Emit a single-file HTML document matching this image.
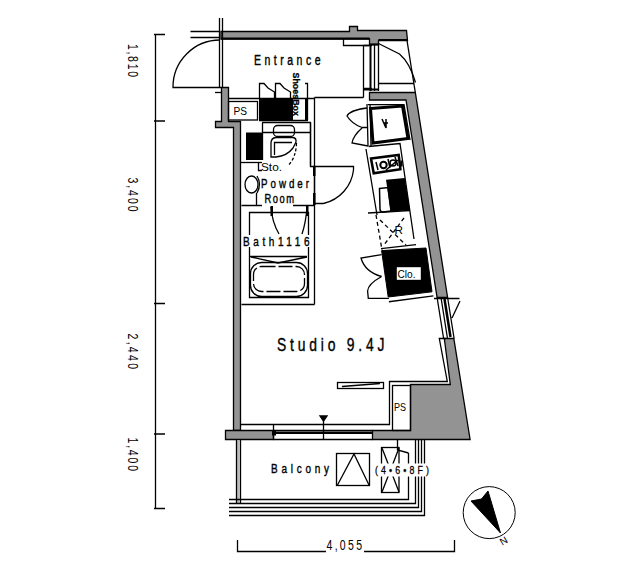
<!DOCTYPE html>
<html><head><meta charset="utf-8">
<style>
html,body{margin:0;padding:0;background:#fff;width:640px;height:569px;overflow:hidden}
svg{display:block}
text{font-family:"Liberation Mono",monospace;fill:#000}
.s{font-family:"Liberation Sans",sans-serif}
g[stroke="#000"]{stroke-width:1.3}
</style></head>
<body>
<svg width="640" height="569" viewBox="0 0 640 569">
<g fill="none" stroke="#000" stroke-width="1">
<!-- left dimension -->
<path d="M155.5 34V508.5M154 34.5H165M154 121H165M154 303.5H165M154 434H165M154 508.5H165"/>
<!-- bottom dimension -->
<path d="M237.5 540V551.5H326M364 551.5H454.5V540"/>
</g>
<g class="s" font-size="14">
<text class="s" transform="translate(128,44) rotate(90) scale(0.75,1)" textLength="44.00" lengthAdjust="spacing">1,810</text>
<text class="s" transform="translate(128,177.5) rotate(90) scale(0.75,1)" textLength="45.33" lengthAdjust="spacing">3,400</text>
<text class="s" transform="translate(128,333.5) rotate(90) scale(0.75,1)" textLength="47.33" lengthAdjust="spacing">2,440</text>
<text class="s" transform="translate(128,437.5) rotate(90) scale(0.75,1)" textLength="44.67" lengthAdjust="spacing">1,400</text>
<text class="s" transform="translate(326.5,550) scale(0.75,1)" textLength="47.33" lengthAdjust="spacing">4,055</text>
</g>

<!-- ============ walls grey ============ -->
<g fill="#939393" stroke="#000" stroke-width="1">
<!-- top wall -->
<path d="M221 31.5H349.5V26.5H357.5V30.5H406.5L407.5 40.5H378.5V44.5H369.5V39H221Z"/>
<!-- left wall -->
<path d="M221.5 87.5H228.5V121.5H240.5V430.5H233.5V127.5H215.5V121.5H221.5Z"/>
<!-- right wall upper -->
<path d="M369.5 92.5H415.3L447.6 297.5H437.1L406 100H369.5Z"/>
<!-- right wall lower + PS block -->
<path d="M444.3 338.5H453.8L470.1 439.5H372.5V430.5H410.5V384.5H450.3Z"/>
<!-- bottom left band -->
<path d="M225.5 430.5H273.5V439.5H225.5Z"/>
</g>
<path d="M221 38.5H369.5M378.5 40H407" stroke="#000" stroke-width="2"/>

<g fill="none" stroke="#000" stroke-width="1">
<!-- entrance left double line -->
<path d="M219.5 18V87M222.5 18V87"/>
<!-- entrance door -->
<path d="M190.5 31.5H220M190.5 37.5H220"/>
<path d="M220 40A47 47 0 0 0 173 87.5H221"/>
<path d="M215 92.5H221"/>
<!-- top right window + door -->
<path d="M363.5 45V97.5M374.5 45V91M378.5 45V91M363.5 45.5H372M363.5 88.5H372"/>
<path d="M370.5 44V91" stroke-width="2"/><path d="M363 89.5H379M369 44.5H379" stroke-width="2"/>
<path d="M343.5 39V45.5H369"/>
<path d="M378.5 43.5L399.5 54Q410 63 415.5 82.5"/>
<path d="M378.5 83.5H414"/>
<path d="M407 40.5L415.3 92.5"/>
<!-- entrance lower boundary -->
<path d="M228.5 98.5H314.5"/>
<path d="M314.5 97.5H363.5"/>
<path d="M314.5 97.5V205.5M310.5 122.5V166.5H314.5"/>
<path d="M314.5 166.5H353.5V170A39 39 0 0 1 323.5 203.5H314.5"/>
<!-- right window (studio) -->
<path d="M437.1 297.5L443.6 338.5M447.6 297.5L454.1 338.5M441 297.5L447.5 338.5M434 298.5H459.5M460 301L452 318"/>
<path d="M444.5 299L450.5 337" stroke-width="2.5"/>
</g>

<!-- ============ entrance / shoe box ============ -->
<g fill="none" stroke="#000" stroke-width="1">
<rect x="228.5" y="101.5" width="29" height="18.5"/>
<path d="M259.5 98V83.5H264L268 88L274.5 92V98M275.5 98V83.5H280L284 88L290.5 92V98"/>
<path d="M259 120.5H308M305 83.5H307.5V120"/>
</g>
<rect x="259" y="98" width="34" height="22" fill="#000"/>
<rect x="305" y="98" width="3" height="22" fill="#000"/>
<text class="s" x="233.5" y="114.8" font-size="11.5" textLength="13.5" lengthAdjust="spacingAndGlyphs">PS</text>
<text transform="translate(293,72.5) rotate(90)" font-size="9.5" class="s" font-weight="bold" stroke="#000" stroke-width="0.3" y="0" textLength="43.5" lengthAdjust="spacingAndGlyphs">ShoesBox</text>
<text class="s" transform="translate(254,65) scale(0.75,1)" stroke="#000" stroke-width="0.4" font-size="14" textLength="88.67" lengthAdjust="spacing">Entrance</text>

<!-- ============ powder room ============ -->
<g fill="none" stroke="#000" stroke-width="1">
<path d="M262.5 123V160M262 122.5H311M310.5 122.5V165.5"/>
<path d="M262 132.5H310.5"/>
<path d="M241 162.5H262"/>
<rect x="273.5" y="125.5" width="21" height="11" rx="4"/>
<path d="M271 157V143Q271 138 276 137.5H293Q296.5 138 296 142L293 148Q287 156 276 157Z"/>
<path d="M274.5 155V142.5H292"/>
<path d="M296.5 143Q296 158 288 165.5" stroke-dasharray="3 2"/>
<ellipse cx="251.5" cy="184.5" rx="6.5" ry="8.5"/>
<path d="M257 176Q262 184 257 193" />
<path d="M241.5 205.5H262M293 205.5H314.5M314.5 165.5V304.5"/>
<path d="M256.5 193V205M258.5 163V170.5H262"/>
</g>
<rect x="246" y="132.5" width="16.5" height="27.5" fill="#000"/>
<rect x="313" y="166" width="2.5" height="10" fill="#000"/><rect x="313" y="193" width="2.5" height="12" fill="#000"/>
<text class="s" x="261" y="171" font-size="10.5" textLength="21" lengthAdjust="spacingAndGlyphs">Sto.</text>
<text class="s" transform="translate(261,188) scale(0.75,1)" stroke="#000" stroke-width="0.4" font-size="13" textLength="64.00" lengthAdjust="spacing">Powder</text>
<text class="s" transform="translate(264.5,203) scale(0.75,1)" stroke="#000" stroke-width="0.4" font-size="12.5" textLength="39.33" lengthAdjust="spacing">Room</text>

<!-- ============ bath ============ -->
<g fill="none" stroke="#000" stroke-width="1">
<path d="M249.5 235V212.5H308.5V235M249.5 247V297.5H308.5V247"/>
<path d="M271 207Q272 222 279 234M307 207Q306 222 302 234"/>
<rect x="250.5" y="262.5" width="57" height="34" rx="11"/>
<rect x="253.5" y="266.5" width="51" height="25" rx="8" stroke-dasharray="14 3"/>
<path d="M250 256.5H307M251 257L278 263L307 257"/>
<path d="M241.5 304.5H314.5"/>
</g>
<rect x="270.5" y="206" width="2.5" height="10" fill="#000"/>
<rect x="306" y="206" width="2.5" height="10" fill="#000"/>
<text class="s" transform="translate(243,245.5) scale(0.75,1)" stroke="#000" stroke-width="0.4" font-size="13.3" textLength="88.67" lengthAdjust="spacing">Bath1116</text>

<!-- ============ kitchen ============ -->
<g fill="none" stroke="#000" stroke-width="1">
<path d="M367 104L368 146M370 104L371 146"/>
<path d="M368 104.7H404L410 140"/>
<path d="M370.5 108.5L402.5 106L408 138.5L373 143Z" stroke-width="3"/>
<path d="M367 108Q350 110 347 116Q352 124 362 127.5L367 127.5M362 128Q353 136 352 143L368 146"/>
<path d="M368.5 146.5L400 143.5L414 239M366 149L377 215"/>
<path d="M371 158.5L398.7 155L400.4 169.2L373.7 173.3Z" stroke-width="2.5"/>
<circle cx="383.5" cy="165" r="3.2" stroke-width="2"/>
<circle cx="393" cy="163" r="3" stroke-width="1.5"/>
<path d="M376 162L378 170M388 159L390 168M395 157L398 166M386 170L398 160" stroke-width="1.5"/>
<path d="M401.5 160.5V166.5" stroke-width="2"/>
<path d="M379.5 188.5L388 187.5L391 211L383 212Q380 212 380 209Z" stroke-width="1.5"/><path d="M368 213L410 210.5"/>
<path d="M376 215L382 250" stroke-dasharray="4 3"/>
<path d="M380 220L406 245M404 218L384 245" stroke-dasharray="4 3"/>
</g>
<path d="M386 179.7L404.8 178L410 210L390.7 211.8Z" fill="#000"/>
<path d="M382 119L386 128L386 119M384 123H388" fill="none" stroke="#000" stroke-width="1.5"/>
<text class="s" x="394.5" y="234" font-size="11" textLength="8.5" lengthAdjust="spacingAndGlyphs">R</text>

<!-- clo -->
<path d="M381.6 250.6L426 248L432 291.8L388.2 297Z" fill="#000" stroke="#000"/>
<rect x="396.8" y="267.2" width="24" height="12.6" fill="#fff"/>
<text class="s" x="397.5" y="277.8" font-size="10.5" textLength="18" lengthAdjust="spacingAndGlyphs">Clo.</text>
<g fill="none" stroke="#000" stroke-width="1">
<path d="M381.6 254.6L361 258Q365 272 381.6 276.5M381.6 276.5Q368 284 367.6 291L368.3 298.4H388.9M381 248.6L416 244.6"/>
<path d="M388.9 301.75L433.4 295.8"/>
</g>

<!-- ============ studio ============ -->
<g fill="none" stroke="#000" stroke-width="1">
<path d="M241 424.5H389.5V381.5H447.3L439.3 338.5H446"/>
<rect x="392.5" y="385.5" width="18" height="45"/>
<rect x="337.5" y="382.5" width="46" height="6"/>
<path d="M342 386.5L380 383.5"/>
<path d="M273.5 424.5V439.5M273.5 439.5H372.5M273.5 430.5H372.5"/>
<path d="M323.5 419V439.5"/>
<path d="M320 416H327L323.5 421Z" fill="#000"/>
</g>
<rect x="273.5" y="431.5" width="99" height="2.5" fill="#000"/><rect x="272" y="430.5" width="4" height="5" fill="#000"/>
<text class="s" transform="translate(277,351.3) scale(0.75,1)" stroke="#000" stroke-width="0.4" font-size="18.5" textLength="143.33" lengthAdjust="spacing">Studio 9.4J</text>
<text class="s" x="394" y="411" font-size="11" textLength="12" lengthAdjust="spacingAndGlyphs">PS</text>

<!-- ============ balcony ============ -->
<path d="M238 440V503.5" stroke="#bbb" stroke-width="3"/>
<g fill="none" stroke="#000" stroke-width="1">
<path d="M236.5 440V503.5M240.5 440V503.5"/>
<path d="M229 499.5H408.5V453M229 503.5H415.5V440M229 507.5H418.5V440M229 511.5H421.5V440M229 515.5H424.5V440"/>
<rect x="336.5" y="453.5" width="33" height="32"/>
<path d="M337.5 485L354 454L369 485"/>
<rect x="381.5" y="447.5" width="17.5" height="45"/>
<path d="M382 448L399 492M399 448L382 492"/>
<path d="M397.5 440V450L408.5 453"/>
</g>
<rect x="373" y="463.5" width="58" height="13" fill="#fff"/>
<text class="s" transform="translate(375,474) scale(0.8,1)" stroke="#000" stroke-width="0.3" font-size="11" textLength="67.5" lengthAdjust="spacing">(4•6•8F)</text>
<text class="s" transform="translate(271,472.5) scale(0.75,1)" stroke="#000" stroke-width="0.4" font-size="13.3" textLength="77.33" lengthAdjust="spacing">Balcony</text>

<!-- ============ compass ============ -->
<circle cx="489.2" cy="512.6" r="26" fill="none" stroke="#000" stroke-width="1"/>
<path d="M471 501L481.5 499L488 491L500.5 533Z" fill="#000" stroke="#000" stroke-width="1"/>
<text class="s" x="499" y="544" font-size="10" transform="rotate(-30 504 539)">N</text>
</svg>
</body></html>
